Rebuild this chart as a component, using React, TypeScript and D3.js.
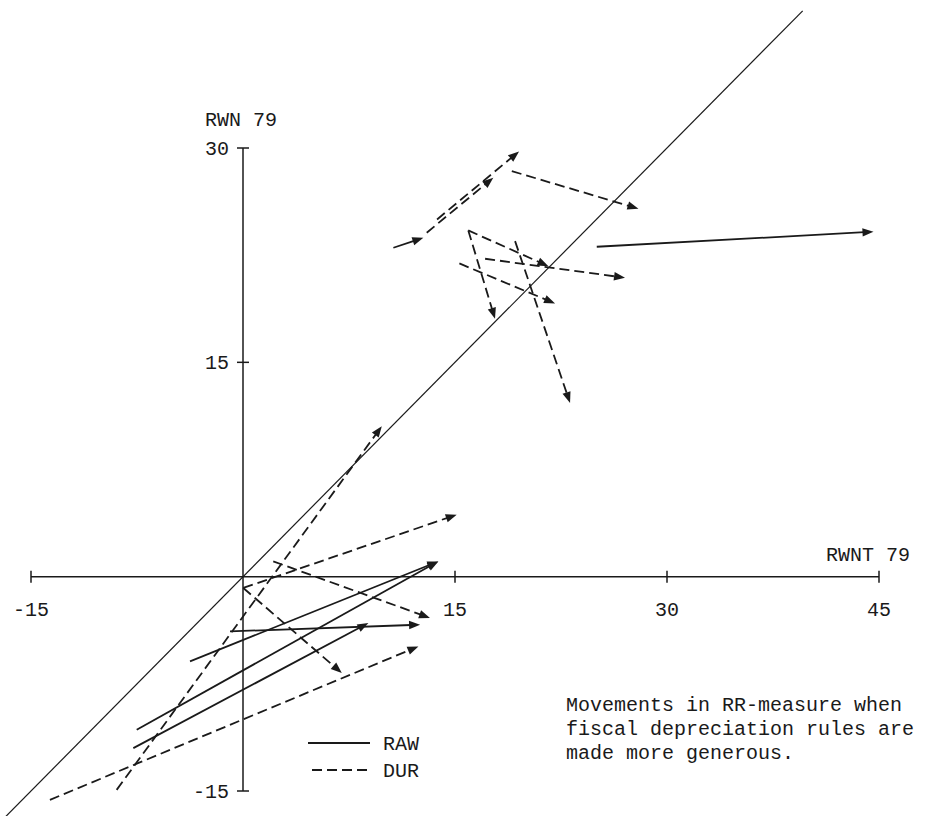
import React from 'react';
import * as d3 from 'd3';

// Axis ticks
const xTicks = [-15, 15, 30, 45];
const yTicks = [-15, 15, 30];
const xTickLabels = ['-15', '15', '30', '45'];
const yTickLabels = ['-15', '15', '30'];

// RAW movements: [x0, y0, x1, y1] (RWNT 79, RWN 79)
const rawMoves: number[][] = [
  [-3.75, -5.93, 13.82, 1.07],
  [-7.52, -10.71, 13.82, 1.07],
  [-7.76, -12.0, 8.87, -3.24],
  [-0.92, -3.83, 12.53, -3.36],
  [10.64, 23.02, 12.76, 23.72],
  [25.03, 23.09, 44.61, 24.14],
];

// DUR movements: [x0, y0, x1, y1]
const durMoves: number[][] = [
  [-13.66, -15.62, 12.41, -4.88],
  [-8.94, -14.92, 9.82, 10.53],
  [0.02, -0.79, 6.99, -6.74],
  [0.02, -0.79, 15.12, 4.34],
  [2.14, 1.07, 13.23, -2.89],
  [13.0, 24.07, 17.71, 27.92],
  [13.73, 25.0, 19.53, 29.76],
  [19.02, 28.38, 27.98, 25.75],
  [15.94, 24.23, 21.61, 21.73],
  [15.94, 24.23, 17.83, 18.05],
  [19.25, 23.48, 23.14, 12.16],
  [17.13, 22.25, 27.03, 20.92],
  [15.31, 21.92, 22.08, 19.12],
];

// 45-degree reference line extent
const diagonal = [-17.4, 39.6];

const captionLines = [
  'Movements in RR-measure when',
  'fiscal depreciation rules are',
  'made more generous.',
];

const W = 932;
const H = 816;
const FONT = "'Liberation Mono', 'DejaVu Sans Mono', monospace";
const INK = '#1a1a1a';
const DASH = '10 5';

const x = d3.scaleLinear().domain([-15, 45]).range([31, 879]);
const y = d3.scaleLinear().domain([-15, 30]).range([791, 148]);

function Arrow({ m, dashed }: { m: number[]; dashed: boolean }) {
  const [x0, y0, x1, y1] = m;
  const px0 = x(x0), py0 = y(y0), px1 = x(x1), py1 = y(y1);
  const dx = px1 - px0, dy = py1 - py0;
  const len = Math.hypot(dx, dy);
  const ux = dx / len, uy = dy / len;
  const nx = -uy, ny = ux;
  const L = 11, Wd = 4.2;
  const bx = px1 - ux * L, by = py1 - uy * L;
  const line = d3.line()([[px0, py0], [bx + ux * 2, by + uy * 2]]) || '';
  const head = [
    [px1, py1],
    [bx + nx * Wd, by + ny * Wd],
    [bx - nx * Wd, by - ny * Wd],
  ];
  return (
    <g>
      <path d={line} fill="none" stroke={INK} strokeWidth={1.8}
        strokeDasharray={dashed ? DASH : undefined} />
      <polygon points={head.map((p) => p.join(',')).join(' ')} fill={INK} />
    </g>
  );
}

export default function App() {
  const x0 = x(0), y0 = y(0);
  return (
    <svg width={W} height={H} viewBox={`0 0 ${W} ${H}`}
      style={{ position: 'absolute', left: 0, top: 0, background: '#fff' }}>
      <rect width={W} height={H} fill="#fff" />
      {/* diagonal */}
      <line x1={x(diagonal[0])} y1={y(diagonal[0])} x2={x(diagonal[1])} y2={y(diagonal[1])}
        stroke={INK} strokeWidth={1.2} />
      {/* x axis */}
      <line x1={x(-15)} y1={y0} x2={x(45)} y2={y0} stroke={INK} strokeWidth={1.5} />
      {xTicks.map((t, i) => (
        <g key={'xt' + i}>
          <line x1={x(t)} x2={x(t)} y1={y0 - 6} y2={y0 + 6} stroke={INK} strokeWidth={1.5} />
          <text x={x(t)} y={y0 + 39} textAnchor="middle" fontFamily={FONT} fontSize={20} fill={INK}>
            {xTickLabels[i]}
          </text>
        </g>
      ))}
      {/* y axis */}
      <line x1={x0} y1={y(-15)} x2={x0} y2={y(30)} stroke={INK} strokeWidth={1.5} />
      {yTicks.map((t, i) => (
        <g key={'yt' + i}>
          <line x1={x0 - 6} x2={x0 + 6} y1={y(t)} y2={y(t)} stroke={INK} strokeWidth={1.5} />
          <text x={x0 - 14} y={y(t) + 7} textAnchor="end" fontFamily={FONT} fontSize={20} fill={INK}>
            {yTickLabels[i]}
          </text>
        </g>
      ))}
      <text x={205} y={126} fontFamily={FONT} fontSize={20} fill={INK}>RWN 79</text>
      <text x={910} y={y0 - 16} textAnchor="end" fontFamily={FONT} fontSize={20} fill={INK}>RWNT 79</text>

      {rawMoves.map((m, i) => <Arrow key={'r' + i} m={m} dashed={false} />)}
      {durMoves.map((m, i) => <Arrow key={'d' + i} m={m} dashed={true} />)}

      {/* legend */}
      <line x1={308} x2={370} y1={743} y2={743} stroke={INK} strokeWidth={1.8} />
      <text x={383} y={750} fontFamily={FONT} fontSize={20} fill={INK}>RAW</text>
      <line x1={312} x2={372} y1={770} y2={770} stroke={INK} strokeWidth={1.8} strokeDasharray={DASH} />
      <text x={383} y={777} fontFamily={FONT} fontSize={20} fill={INK}>DUR</text>

      {captionLines.map((s, i) => (
        <text key={'c' + i} x={566} y={711 + i * 24} fontFamily={FONT} fontSize={20} fill={INK}
          style={{ whiteSpace: 'pre' }}>
          {s}
        </text>
      ))}
    </svg>
  );
}
